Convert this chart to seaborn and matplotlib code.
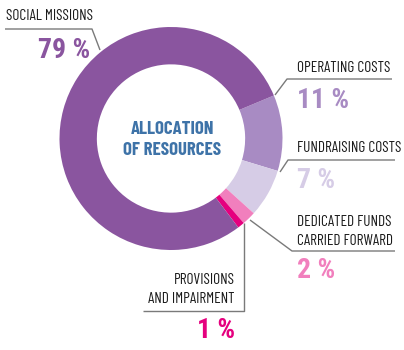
import matplotlib
matplotlib.use("Agg")
import matplotlib.pyplot as plt
import seaborn as sns

# Resource allocation shares (percent)
categories = ["OPERATING COSTS", "FUNDRAISING COSTS", "DEDICATED FUNDS\nCARRIED FORWARD",
              "PROVISIONS\nAND IMPAIRMENT", "SOCIAL MISSIONS"]
shares = [11, 7, 2, 1, 79]
colors = ["#a88bc3", "#d6cce6", "#f17fbd", "#e5007e", "#8a559f"]
value_labels = [f"{v} %" for v in shares]

sns.set_theme(style="white")
plt.rcParams["font.family"] = ["Barlow Condensed", "Roboto Condensed", "DejaVu Sans"]

W, H = 404, 350
fig = plt.figure(figsize=(W / 100, H / 100), dpi=100)
fig.patch.set_facecolor("white")

# Donut ring
cx, cy, R = 171, 138.5, 111.5
ax = fig.add_axes([(cx - R) / W, (H - cy - R) / H, 2 * R / W, 2 * R / H])
ax.pie(shares, colors=colors, startangle=22.7, counterclock=False, radius=1,
       wedgeprops=dict(width=0.335, linewidth=0))
ax.set_xlim(-1, 1)
ax.set_ylim(-1, 1)
ax.set_aspect("equal")
ax.axis("off")

# Overlay in pixel coordinates for labels and leader lines
ov = fig.add_axes([0, 0, 1, 1])
ov.set_xlim(0, W)
ov.set_ylim(H, 0)
ov.axis("off")
ov.patch.set_alpha(0)

line_kw = dict(color="#7a7a7a", lw=1.0, solid_capstyle="butt")
ov.plot([5, 92, 100], [29, 29, 50], **line_kw)
ov.plot([275, 287, 392], [95, 79, 79], **line_kw)
ov.plot([280, 288, 395], [172, 160, 160], **line_kw)
ov.plot([250, 292, 395], [220, 251, 251], **line_kw)
ov.plot([244, 244, 143], [223, 311, 311], **line_kw)

lab_kw = dict(fontsize=11, color="#1a1a1a", linespacing=1.45)
val_kw = dict(fontsize=20, fontweight="bold", fontstyle="normal",
              family=["Roboto Condensed", "DejaVu Sans"])

# Social missions
ov.text(6, 20.5, categories[4], ha="left", va="baseline", **lab_kw)
ov.text(90, 58, value_labels[4], ha="right", va="baseline", color=colors[4], **val_kw)
# Operating costs
ov.text(297, 72, categories[0], ha="left", va="baseline", **lab_kw)
ov.text(297, 108, value_labels[0], ha="left", va="baseline", color=colors[0], **val_kw)
# Fundraising costs
ov.text(297, 152, categories[1], ha="left", va="baseline", **lab_kw)
ov.text(297, 188, value_labels[1], ha="left", va="baseline", color=colors[1], **val_kw)
# Dedicated funds
ov.text(297, 245, categories[2], ha="left", va="baseline", **lab_kw)
ov.text(297, 278, value_labels[2], ha="left", va="baseline", color=colors[2], **val_kw)
# Provisions
ov.text(235, 303, categories[3], ha="right", va="baseline", multialignment="right", **lab_kw)
ov.text(235, 338, value_labels[3], ha="right", va="baseline", color=colors[3], **val_kw)

# Center title
ov.text(cx + 1.5, 140, "ALLOCATION\nOF RESOURCES", ha="center", va="center", fontsize=13.5,
        fontweight="bold", color="#3e73a8", linespacing=1.3)

fig.savefig("out.png", dpi=100, facecolor="white")
